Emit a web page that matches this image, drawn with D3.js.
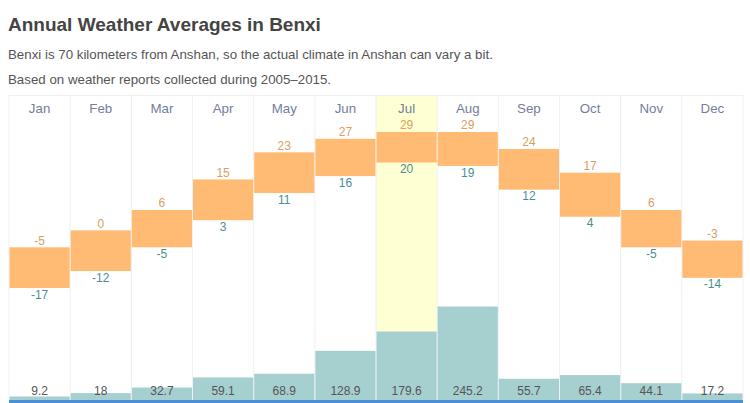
<!DOCTYPE html>
<html>
<head>
<meta charset="utf-8">
<script src="https://cdnjs.cloudflare.com/ajax/libs/d3/7.8.5/d3.min.js"></script>
<style>
  html, body { margin: 0; padding: 0; background: #fff; overflow: hidden; }
  svg { display: block; font-family: "Liberation Sans", Arial, sans-serif; }
</style>
</head>
<body>
<svg id="chart" width="750" height="403"></svg>
<script>
// Values
const months = ["Jan", "Feb", "Mar", "Apr", "May", "Jun", "Jul", "Aug", "Sep", "Oct", "Nov", "Dec"];
const highs = [-5, 0, 6, 15, 23, 27, 29, 29, 24, 17, 6, -3];
const lows = [-17, -12, -5, 3, 11, 16, 20, 19, 12, 4, -5, -14];
const rain = [9.2, 18, 32.7, 59.1, 68.9, 128.9, 179.6, 245.2, 55.7, 65.4, 44.1, 17.2];
const currentMonth = "Jul";

const plot = { left: 9, right: 743, top: 95, bottom: 400 };

const svg = d3.select("#chart");

// Heading
svg.append("text").attr("x", 8).attr("y", 31)
  .attr("font-size", 19).attr("font-weight", "bold").attr("fill", "#444")
  .text("Annual Weather Averages in Benxi");
svg.append("text").attr("x", 8).attr("y", 59)
  .attr("font-size", 13.3).attr("fill", "#555")
  .text("Benxi is 70 kilometers from Anshan, so the actual climate in Anshan can vary a bit.");
svg.append("text").attr("x", 8).attr("y", 84)
  .attr("font-size", 13.3).attr("fill", "#555")
  .text("Based on weather reports collected during 2005\u20132015.");

// Scales
var x = d3.scaleBand().domain(months).range([plot.left, plot.right]);
// 29 degrees sits at y=132, 3.4px per degree
var yTemp = d3.scaleLinear().domain([29, -17]).range([132, 288]);
// 245.2 mm is 93.5px tall
var yRain = d3.scaleLinear().domain([0, 245.2]).range([plot.bottom, 306.5]);

// Highlight for the current month, stops where the rain bar starts
svg.append("rect")
  .attr("x", x(currentMonth))
  .attr("y", plot.top)
  .attr("width", x.bandwidth())
  .attr("height", yRain(rain[months.indexOf(currentMonth)]) - plot.top)
  .attr("fill", "#ffffd4");

// Column separators and frame
svg.append("g").selectAll("line")
  .data(months.concat(["end"]))
  .enter().append("line")
  .attr("x1", (d, i) => plot.left + i * x.step())
  .attr("x2", (d, i) => plot.left + i * x.step())
  .attr("y1", plot.top)
  .attr("y2", plot.bottom)
  .attr("stroke", "#eef0f2");
svg.append("line")
  .attr("x1", plot.left).attr("x2", plot.right)
  .attr("y1", plot.top + 0.5).attr("y2", plot.top + 0.5)
  .attr("stroke", "#eef0f2");

// Rain bars
svg.append("g").selectAll("rect")
  .data(rain)
  .enter().append("rect")
  .attr("x", (d, i) => x(months[i]) + 0.5)
  .attr("y", d => yRain(d))
  .attr("width", x.bandwidth() - 1)
  .attr("height", d => plot.bottom - yRain(d))
  .attr("fill", "#a6cfd0");

// Temperature range bars
svg.append("g").selectAll("rect")
  .data(months)
  .enter().append("rect")
  .attr("x", d => x(d) + 0.5)
  .attr("y", (d, i) => yTemp(highs[i]))
  .attr("width", x.bandwidth() - 1)
  .attr("height", (d, i) => yTemp(lows[i]) - yTemp(highs[i]))
  .attr("fill", "#ffbb73");

// Month labels
var monthAxis = d3.axisTop(x).tickSize(0).tickPadding(0);
var monthGroup = svg.append("g")
  .attr("transform", "translate(0,113)")
  .call(monthAxis);
monthGroup.select(".domain").remove();
monthGroup.selectAll("text")
  .attr("font-family", "inherit")
  .attr("font-size", 13.3)
  .attr("y", 0).attr("dy", 0)
  .attr("fill", "#737d9e");

// Value labels
const cx = d => x(d) + x.bandwidth() / 2;

svg.append("g").selectAll("text")
  .data(months)
  .enter().append("text")
  .attr("x", cx)
  .attr("y", (d, i) => yTemp(highs[i]) - 2.7)
  .attr("text-anchor", "middle")
  .attr("font-size", 12)
  .attr("fill", "#d9a05f")
  .text((d, i) => highs[i]);

svg.append("g").selectAll("text")
  .data(months)
  .enter().append("text")
  .attr("x", cx)
  .attr("y", (d, i) => yTemp(lows[i]) + 10.6)
  .attr("text-anchor", "middle")
  .attr("font-size", 12)
  .attr("fill", "#4a8f93")
  .text((d, i) => lows[i]);

svg.append("g").selectAll("text")
  .data(months)
  .enter().append("text")
  .attr("x", cx)
  .attr("y", 395)
  .attr("text-anchor", "middle")
  .attr("font-size", 12)
  .attr("fill", "#555")
  .text((d, i) => rain[i]);

// Blue strip along the bottom
svg.append("rect")
  .attr("x", plot.left).attr("y", plot.bottom)
  .attr("width", plot.right - plot.left).attr("height", 3)
  .attr("fill", "#4a90d6");
</script>
</body>
</html>
